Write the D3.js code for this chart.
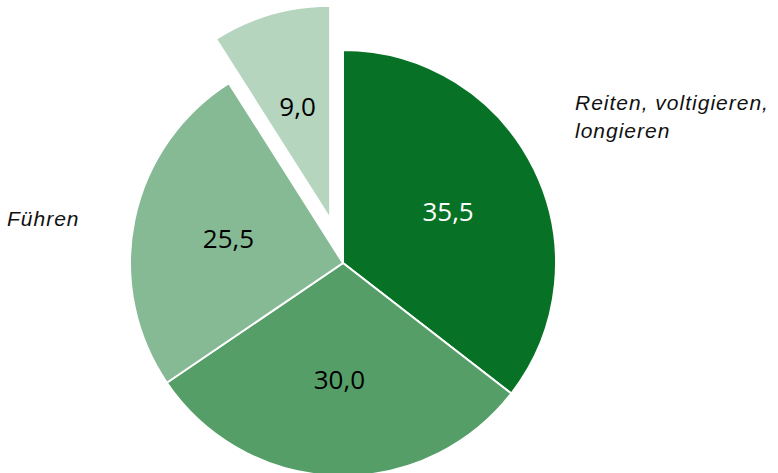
<!DOCTYPE html>
<html lang="de">
<head>
<meta charset="UTF-8">
<title>Pie</title>
<script src="https://d3js.org/d3.v7.min.js"></script>
<style>
html,body{margin:0;padding:0;background:#fff}
svg{display:block}
.val{font-family:"Open Sans","Noto Sans",sans-serif;font-size:26px}
.cat{font-family:"Liberation Sans",Arial,sans-serif;font-style:italic;font-size:21px;letter-spacing:1px;fill:#111}
</style>
</head>
<body>
<div id="chart"></div>
<script>
// data
var categories = ['Reiten, voltigieren, longieren', 'Sonstiges', 'Führen', 'Putzen'];
var values = [35.5, 30.0, 25.5, 9.0];
var colors = ['#077225', '#559e68', '#86ba95', '#b5d5be'];
var textColors = ['#fff', '#000', '#000', '#000'];
var exploded = [false, false, false, true];

var W = 778, H = 473;
var cx = 343, cy = 263, R = 213;

var svg = d3.select('#chart').append('svg').attr('width', W).attr('height', H);
var g = svg.append('g').attr('transform', 'translate(' + cx + ',' + cy + ')');

var pie = d3.pie().sort(null).value(function(d) { return d; });
var arcs = pie(values);
var arc = d3.arc().innerRadius(0).outerRadius(R);
var labelArc = d3.arc().innerRadius(117).outerRadius(117);

function offset(d, i) {
  if (!exploded[i]) return [0, 0];
  var a = (d.startAngle + d.endAngle) / 2;
  return [Math.sin(a) * 46, -Math.cos(a) * 46];
}

var slice = g.selectAll('g.slice').data(arcs).join('g')
  .attr('class', 'slice')
  .attr('transform', function(d, i) { var o = offset(d, i); return 'translate(' + o[0] + ',' + o[1] + ')'; });

slice.append('path')
  .attr('d', arc)
  .attr('fill', function(d, i) { return colors[i]; })
  .attr('stroke', '#fff')
  .attr('stroke-width', 2);

slice.append('text')
  .attr('class', 'val')
  .attr('transform', function(d) { return 'translate(' + labelArc.centroid(d) + ')'; })
  .attr('text-anchor', 'middle')
  .attr('dy', '0.35em')
  .attr('fill', function(d, i) { return textColors[i]; })
  .text(function(d) { return d3.format('.1f')(d.data).replace('.', ','); });

// category labels (only those visible in the picture)
svg.append('text').attr('class', 'cat').attr('x', 575).attr('y', 110)
  .selectAll('tspan').data(['Reiten, voltigieren,', 'longieren']).join('tspan')
  .attr('x', 575).attr('dy', function(d, i) { return i ? 28 : 0; })
  .text(function(d) { return d; });
svg.append('text').attr('class', 'cat').attr('x', 7).attr('y', 226).text(categories[2]);
</script>
</body>
</html>
